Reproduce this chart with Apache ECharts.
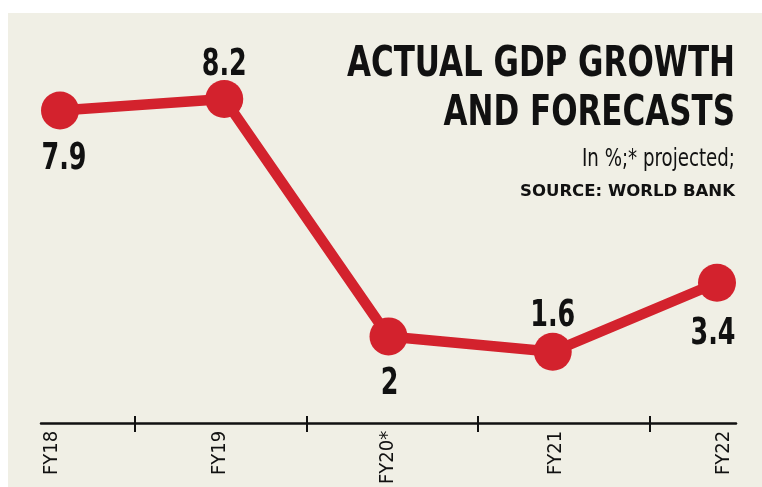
<!DOCTYPE html>
<html>
<head>
<meta charset="utf-8">
<script src="https://cdn.jsdelivr.net/npm/echarts@6/dist/echarts.min.js"></script>
<style>
  html, body { margin: 0; padding: 0; background: #ffffff; }
  #bg { position: absolute; left: 8px; top: 13px; right: 0; bottom: 0; background: #f0efe5; }
  #chart { position: absolute; left: 0; top: 0; width: 762px; height: 487px; }
</style>
</head>
<body>
<div id="bg"></div>
<div id="chart"></div>
<script>
// ---- data ----
const categories = ['FY18', 'FY19', 'FY20*', 'FY21', 'FY22'];
const growth = [7.9, 8.2, 2, 1.6, 3.4];
const titleLines = ['ACTUAL GDP GROWTH', 'AND FORECASTS'];
const noteText = 'In %;* projected;';
const sourceText = 'SOURCE: WORLD BANK';

// ---- build ----
const RED = '#d3222d';
const COND = '"DejaVu Sans Condensed", "DejaVu Sans", sans-serif';
const WIDE = '"DejaVu Sans", sans-serif';
const mctx = document.createElement('canvas').getContext('2d');
function fitScale(text, weight, size, family, target) {
  mctx.font = weight + ' ' + size + 'px ' + family;
  return target / mctx.measureText(text).width;
}
const titleScale = fitScale(titleLines[0], 'bold', 42, COND, 388);
const noteScale = fitScale(noteText, 'normal', 25, COND, 153);
const srcScale = fitScale(sourceText, 'bold', 15, WIDE, 215);
const numScale = fitScale('8.2', 'bold', 38, COND, 45);

// label placement (pixels relative to each point)
const labelDY = [49, -34, 48, -36, 51];
const labelDX = [4, 0, 1, 0, -4];

const tickSlots = [];
for (let i = 0; i < categories.length * 2 - 1; i++) tickSlots.push('');
const tickEvery = (i) => i % 2 === 1;

const chart = echarts.init(document.getElementById('chart'), null, { renderer: 'canvas' });
chart.setOption({
  backgroundColor: 'transparent',
  animation: false,
  graphic: [
    { type: 'text', x: 735, y: 41, scaleX: titleScale, z: 10,
      style: { text: titleLines.join('\n'), align: 'right', verticalAlign: 'top',
        fontFamily: COND, fontWeight: 'bold', fontSize: 42, lineHeight: 49, fill: '#111' } },
    { type: 'text', x: 735, y: 147, scaleX: noteScale, z: 10,
      style: { text: noteText, align: 'right', verticalAlign: 'top',
        fontFamily: COND, fontWeight: 'normal', fontSize: 25, fill: '#111' } },
    { type: 'text', x: 735, y: 185, scaleX: srcScale, z: 10,
      style: { text: sourceText, align: 'right', verticalAlign: 'top',
        fontFamily: WIDE, fontWeight: 'bold', fontSize: 15, fill: '#111' } }
  ],
  grid: [
    { left: 60, right: 45, top: 30, bottom: 74 },   // line + points
    { left: 52, right: 38, top: 30, bottom: 64 },   // category labels
    { left: 49, right: 27, top: 30, bottom: 64 },   // tick marks
    { left: 41, right: 26, top: 30, bottom: 64 }    // axis line
  ],
  xAxis: [
    { gridIndex: 0, type: 'category', data: categories, boundaryGap: false,
      axisLine: { show: false }, axisTick: { show: false }, axisLabel: { show: false }, splitLine: { show: false } },
    { gridIndex: 1, type: 'category', data: categories, boundaryGap: false,
      axisLine: { show: false }, axisTick: { show: false },
      axisLabel: { rotate: 90, margin: 11, interval: 0, fontFamily: COND, fontSize: 20, color: '#111' } },
    { gridIndex: 2, type: 'category', data: tickSlots, boundaryGap: false, position: 'bottom',
      axisLine: { show: false },
      axisTick: { show: true, inside: false, length: 9, interval: tickEvery, lineStyle: { color: '#111', width: 2 } },
      axisLabel: { show: false } },
    { gridIndex: 2, type: 'category', data: tickSlots, boundaryGap: false, position: 'bottom', offset: 0,
      axisLine: { show: false },
      axisTick: { show: true, inside: true, length: 7, interval: tickEvery, lineStyle: { color: '#111', width: 2 } },
      axisLabel: { show: false } },
    { gridIndex: 3, type: 'category', data: tickSlots, boundaryGap: false, position: 'bottom',
      axisLine: { show: true, lineStyle: { color: '#111', width: 2.5 } },
      axisTick: { show: false }, axisLabel: { show: false } }
  ],
  yAxis: [
    { gridIndex: 0, type: 'value', min: 0, max: 10, show: false },
    { gridIndex: 1, type: 'value', min: 0, max: 10, show: false },
    { gridIndex: 2, type: 'value', min: 0, max: 10, show: false },
    { gridIndex: 3, type: 'value', min: 0, max: 10, show: false }
  ],
  series: [
    {
      type: 'line',
      xAxisIndex: 0, yAxisIndex: 0,
      data: growth,
      symbol: 'circle',
      symbolSize: 38,
      lineStyle: { color: RED, width: 10.5 },
      itemStyle: { color: RED },
      z: 5
    },
    {
      type: 'custom',
      xAxisIndex: 0, yAxisIndex: 0,
      clip: false,
      data: growth.map((v, i) => [i, v]),
      z: 6,
      renderItem: function (params, api) {
        const i = params.dataIndex;
        const pt = api.coord([api.value(0), api.value(1)]);
        return {
          type: 'text',
          x: pt[0] + labelDX[i],
          y: pt[1] + labelDY[i],
          scaleX: numScale,
          style: {
            text: String(growth[i]),
            align: 'center', verticalAlign: 'middle',
            fontFamily: COND, fontWeight: 'bold', fontSize: 38, fill: '#111'
          }
        };
      }
    }
  ]
});
</script>
</body>
</html>
